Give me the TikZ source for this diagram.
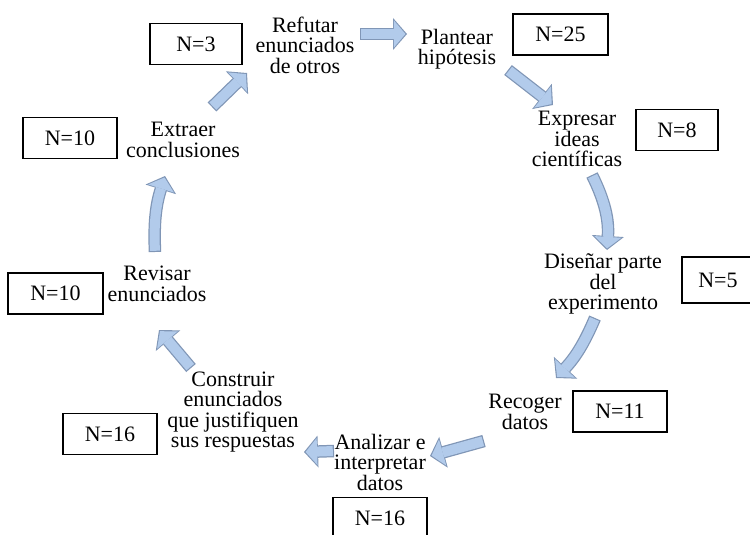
\documentclass[tikz,border=0pt]{standalone}
\usepackage{fontspec}
\setmainfont{Liberation Serif}
\usetikzlibrary{arrows.meta, calc}

\definecolor{flowfill}{RGB}{178,203,235}
\definecolor{flowedge}{RGB}{128,150,182}

\begin{document}
\begin{tikzpicture}[
    x=1pt, y=-1pt,
    % text of each step
    stage/.style={
        align=center,
        inner sep=1pt,
        font=\fontsize{22}{20.5}\selectfont
    },
    % boxes with the counts
    nbox/.style={
        rectangle,
        draw=black,
        line width=1.2pt,
        minimum width=94pt,
        minimum height=41pt,
        inner sep=0pt,
        font=\fontsize{22}{24}\selectfont
    },
    % block arrows between the steps
    flow/.style={
        preaction={draw=flowedge, line width=12.5pt, shorten >=0pt, shorten <=0pt,
            -{Triangle[width=32pt,length=14pt,line width=0pt]}},
        draw=flowfill,
        line width=10pt,
        shorten >=1.6pt,
        shorten <=1.2pt,
        -{Triangle[width=27pt,length=11.5pt,line width=0pt]}
    }
]
\useasboundingbox (0,0) rectangle (750,535);
\clip (0,0) rectangle (750,535);

% steps of the cycle
\node[stage] (refutar) at (305,45) {Refutar\\enunciados\\de otros};
\node[stage] (plantear) at (457,49) {Plantear\\hipótesis};
\node[stage] (expresar) at (577,139) {Expresar\\ideas\\científicas};
\node[stage] (disenar) at (603,284) {Diseñar parte\\del\\experimento};
\node[stage] (recoger) at (525,412) {Recoger\\datos};
\node[stage] (analizar) at (380,462) {Analizar e\\interpretar\\datos};
\node[stage] (construir) at (233,412) {Construir\\enunciados\\que justifiquen\\sus respuestas};
\node[stage] (revisar) at (157,284) {Revisar\\enunciados};
\node[stage] (extraer) at (183,140) {Extraer\\conclusiones};

% counts
\node[nbox, minimum width=92pt] (n3) at (196,44) {N=3};
\node[nbox, minimum width=95pt] (n25) at (560.5,34.5) {N=25};
\node[nbox, minimum width=82pt] (n8) at (677,130) {N=8};
\node[nbox, minimum width=72pt, minimum height=46pt] (n5) at (718,280) {N=5};
\node[nbox] (n11) at (620,411.5) {N=11};
\node[nbox] (n16b) at (380,518) {N=16};
\node[nbox] (n16a) at (110,434) {N=16};
\node[nbox, minimum width=95pt] (n10b) at (55.5,293.5) {N=10};
\node[nbox] (n10a) at (70,138) {N=10};

% arrows round the cycle
\draw[flow] ($(refutar)+(55,-11)$) -- ($(plantear)+(-50,-15)$);
\draw[flow] ($(plantear)+(51,21)$) -- ($(expresar)+(-24,-34)$);
\draw[flow] ($(expresar)+(15,36)$) to[bend left=15] ($(disenar)+(4,-34)$);
\draw[flow] ($(disenar)+(-8,34)$) to[bend left=10] ($(recoger)+(31,-34)$);
\draw[flow] ($(recoger)+(-41,29)$) -- ($(analizar)+(50,-6)$);
\draw[flow] ($(analizar)+(-46,-11)$) -- ($(construir)+(71,40)$);
\draw[flow] ($(construir)+(-42,-44)$) -- ($(revisar)+(2,46)$);
\draw[flow] ($(revisar)+(-2,-32)$) to[bend left=10] ($(extraer)+(-18,36)$);
\draw[flow] ($(extraer)+(29,-33)$) -- ($(refutar)+(-58,28)$);

\end{tikzpicture}
\end{document}
